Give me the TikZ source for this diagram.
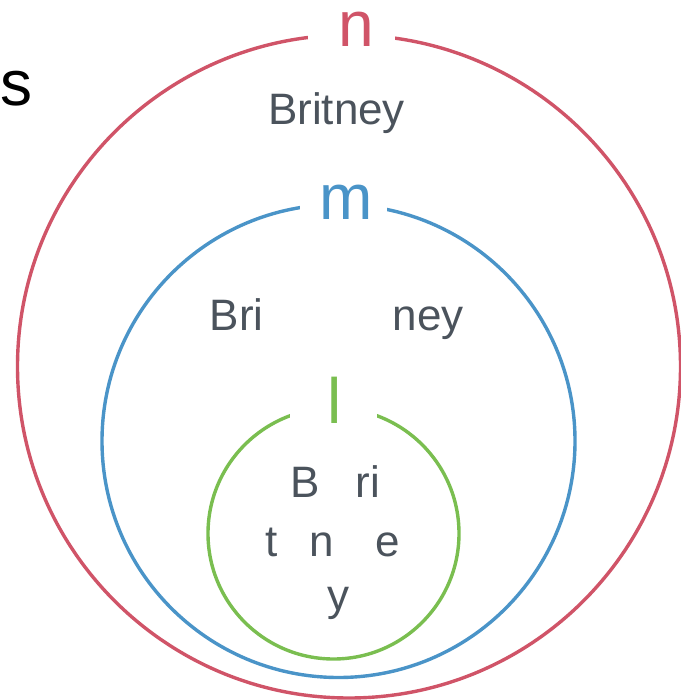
\documentclass[tikz,border=0pt]{standalone}
\usepackage{fontspec}
\setmainfont{Liberation Sans}
\usetikzlibrary{positioning}
\definecolor{setn}{HTML}{D05468}
\definecolor{setm}{HTML}{4A94C8}
\definecolor{setl}{HTML}{7ABE50}
\definecolor{ink}{HTML}{4B535C}

\begin{document}
\begin{tikzpicture}[x=1pt, y=-1pt, line width=3.4pt,
    word/.style={ink, anchor=base, inner sep=0pt, font=\fontsize{44}{50}\selectfont},
    setname/.style={anchor=base, inner sep=0pt, text height=34pt, text depth=0pt,
      font=\fontsize{64}{70}\selectfont},
    gapbox/.style={fill=white, minimum width=87pt, minimum height=26pt, inner sep=0pt}]
    \useasboundingbox (0,0) rectangle (680,700);
    % the three sets
    \draw[setn] (349,366.5) circle[radius=331.5pt];
    \draw[setm] (338.5,441) circle[radius=236.5pt];
    \draw[setl] (333.5,533.5) circle[radius=125.5pt];
    % openings for the names
    \node[gapbox] (ngap) at (351.5,36) {};
    \node[gapbox] (mgap) at (343.5,208) {};
    \node[gapbox] (lgap) at (333.7,412) {};
    \node[setname, setn] (nname) at (356.7,46.5) {n};
    \node[setname, setm] (mname) at (346,220) {m};
    \node[setname, setl] (lname) at (334.5,423) {l};
    \node[setname, black] (sname) at (16.5,106) {s};
    % words
    \node[word] (wn) at (336.5,125) {Britney};
    \node[word] (wm1) at (236.7,330) {Bri};
    \node[word] (wm2) at (428.3,330) {ney};
    \node[word] (wl1) at (305.5,497) {B};
    \node[word] (wl2) at (368,497) {ri};
    \node[word] (wl3) at (272,556) {t};
    \node[word] (wl4) at (322,556) {n};
    \node[word] (wl5) at (388,556) {e};
    \node[word] (wl6) at (338,610) {y};
\end{tikzpicture}
\end{document}
